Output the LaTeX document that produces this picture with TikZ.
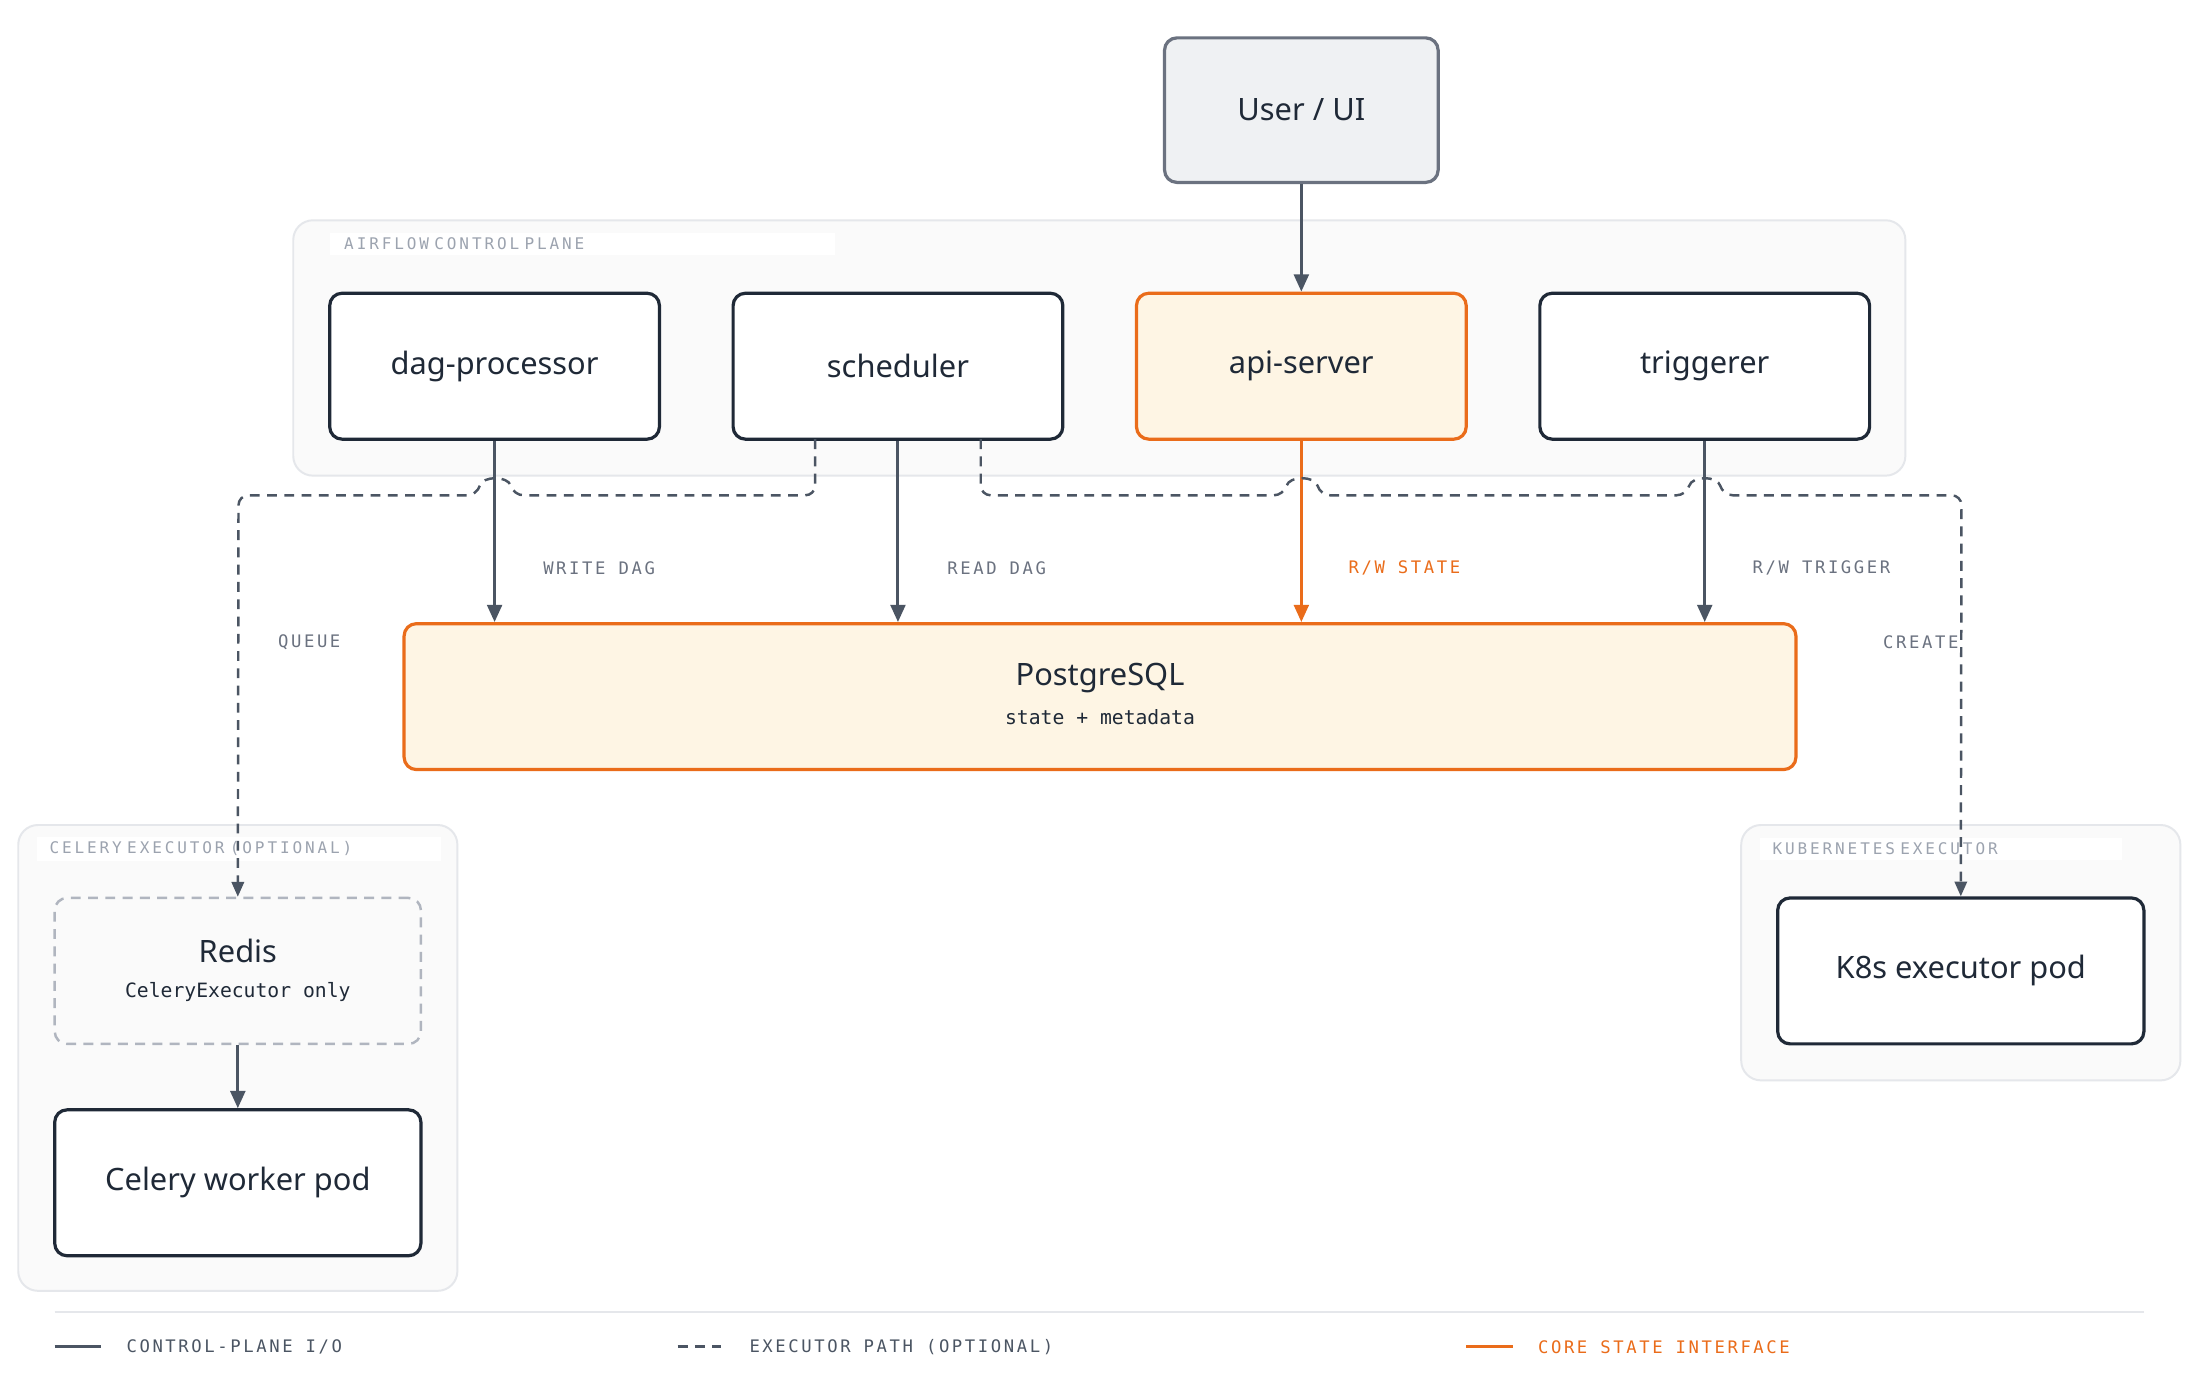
\documentclass[tikz,border=0pt]{standalone}
\usepackage{fontspec}
\setmainfont{Noto Sans}
\newfontfamily\monof{DejaVu Sans Mono}
\usetikzlibrary{arrows.meta}
\definecolor{ink}{HTML}{1F2937}
\definecolor{edge}{HTML}{4B5563}
\definecolor{orng}{HTML}{EA6C1A}
\definecolor{ofill}{HTML}{FEF5E4}
\definecolor{grpf}{HTML}{FAFAFA}
\definecolor{grpb}{HTML}{E5E7EB}
\definecolor{lbl}{HTML}{6B7280}
\definecolor{lbl2}{HTML}{9CA3AF}
\begin{document}
\begin{tikzpicture}[x=0.02cm,y=-0.02cm,
  box/.style={draw=ink,line width=1.3pt,rounded corners=5pt,fill=white,font=\bfseries\fontsize{12.5}{14}\selectfont,text=ink},
  obox/.style={box,draw=orng,fill=ofill},
  grp/.style={draw=grpb,line width=0.8pt,rounded corners=8pt,fill=grpf},
  glbl/.style={fill=white,inner sep=2pt,anchor=west,text=lbl2,font=\monof\fontsize{6.5}{8}\selectfont\addfontfeatures{LetterSpace=18}},
  elbl/.style={anchor=west,text=lbl,font=\monof\fontsize{7}{8}\selectfont\addfontfeatures{LetterSpace=15}},
  arr/.style={draw=edge,line width=1.2pt,-{Triangle[length=7pt,width=6pt]}},
  darr/.style={draw=edge,line width=1pt,dash pattern=on 4pt off 3pt,rounded corners=4pt,-{Triangle[length=6pt,width=5pt]}},
  sub/.style={font=\monof\fontsize{8}{10}\selectfont,text=ink}]
\useasboundingbox (0,0) rectangle (1568,980);
\fill[white] (0,0) rectangle (1568,980);
% groups
\draw[grp] (209,157) rectangle (1358,339);
\node[glbl,minimum width=360*0.02cm,minimum height=16*0.02cm,text width=340*0.02cm] at (235,174) {AIRFLOW CONTROL PLANE};
\draw[grp] (13,588) rectangle (326,920);
\node[glbl,minimum width=288*0.02cm,text width=270*0.02cm] at (26,605) {CELERY EXECUTOR (OPTIONAL)};
\draw[grp] (1241,588) rectangle (1554,770);
\node[glbl,minimum width=258*0.02cm,text width=240*0.02cm] at (1254,605) {KUBERNETES EXECUTOR};
% nodes
\node[box,draw=lbl,fill=grpb!60,minimum width=195*0.02cm,minimum height=103*0.02cm] (user) at (927.5,78.5) {User / UI};
\node[box,minimum width=235*0.02cm,minimum height=104*0.02cm] (dag) at (352.5,261) {dag-processor};
\node[box,minimum width=235*0.02cm,minimum height=104*0.02cm] (sch) at (640,261) {scheduler};
\node[obox,minimum width=235*0.02cm,minimum height=104*0.02cm] (api) at (927.5,261) {api-server};
\node[box,minimum width=235*0.02cm,minimum height=104*0.02cm] (trg) at (1215,261) {triggerer};
\node[obox,minimum width=992*0.02cm,minimum height=104*0.02cm] (pg) at (784,496.5) {};
\node[font=\bfseries\fontsize{12.5}{14}\selectfont,text=ink] at (784,483) {PostgreSQL};
\node[sub] at (784,511) {state + metadata};
\node[box,draw=lbl2!80,dash pattern=on 4pt off 3pt,line width=1pt,fill=grpf,minimum width=261*0.02cm,minimum height=104*0.02cm] (redis) at (169.5,692) {};
\node[font=\bfseries\fontsize{12.5}{14}\selectfont,text=ink] at (169.5,678) {Redis};
\node[sub] at (169.5,707) {CeleryExecutor only};
\node[box,minimum width=261*0.02cm,minimum height=104*0.02cm] (cel) at (169.5,843) {Celery worker pod};
\node[box,minimum width=261*0.02cm,minimum height=104*0.02cm] (k8s) at (1397.5,692) {K8s executor pod};
% solid arrows
\draw[arr] (user.south) -- (api.north);
\draw[arr] (dag.south) -- (dag.south |- pg.north);
\draw[arr] (sch.south) -- (sch.south |- pg.north);
\draw[arr,draw=orng] (api.south) -- (api.south |- pg.north);
\draw[arr] (trg.south) -- (trg.south |- pg.north);
\draw[arr] (redis.south) -- (cel.north);
% dashed
\draw[darr] (581,313) -- (581,353) -- (366,353) .. controls (362,339) and (344,339) .. (340,353) -- (170,353) -- (redis.north);
\draw[darr] (699,313) -- (699,353) -- (915,353) .. controls (919,339) and (937,339) .. (941,353) -- (1202,353) .. controls (1206,339) and (1224,339) .. (1228,353) -- (1398,353) -- (k8s.north);
% labels
\node[elbl] at (381,405) {WRITE DAG};
\node[elbl] at (669,405) {READ DAG};
\node[elbl,text=orng] at (955,405) {R/W STATE};
\node[elbl] at (1243,405) {R/W TRIGGER};
\node[elbl] at (192,458) {QUEUE};
\node[elbl] at (1336,458) {CREATE};
% legend
\draw[grpb,line width=0.8pt] (39,935) -- (1528,935);
\draw[edge,line width=1.2pt] (39,960) -- (72,960);
\node[elbl,text=edge] at (84,960) {CONTROL-PLANE I/O};
\draw[edge,line width=1.2pt,dash pattern=on 4pt off 3pt] (483,960) -- (514,960);
\node[elbl,text=edge] at (528,960) {EXECUTOR PATH (OPTIONAL)};
\draw[orng,line width=1.2pt] (1045,960) -- (1078,960);
\node[elbl,text=orng] at (1090,960) {CORE STATE INTERFACE};
\end{tikzpicture}
\end{document}
